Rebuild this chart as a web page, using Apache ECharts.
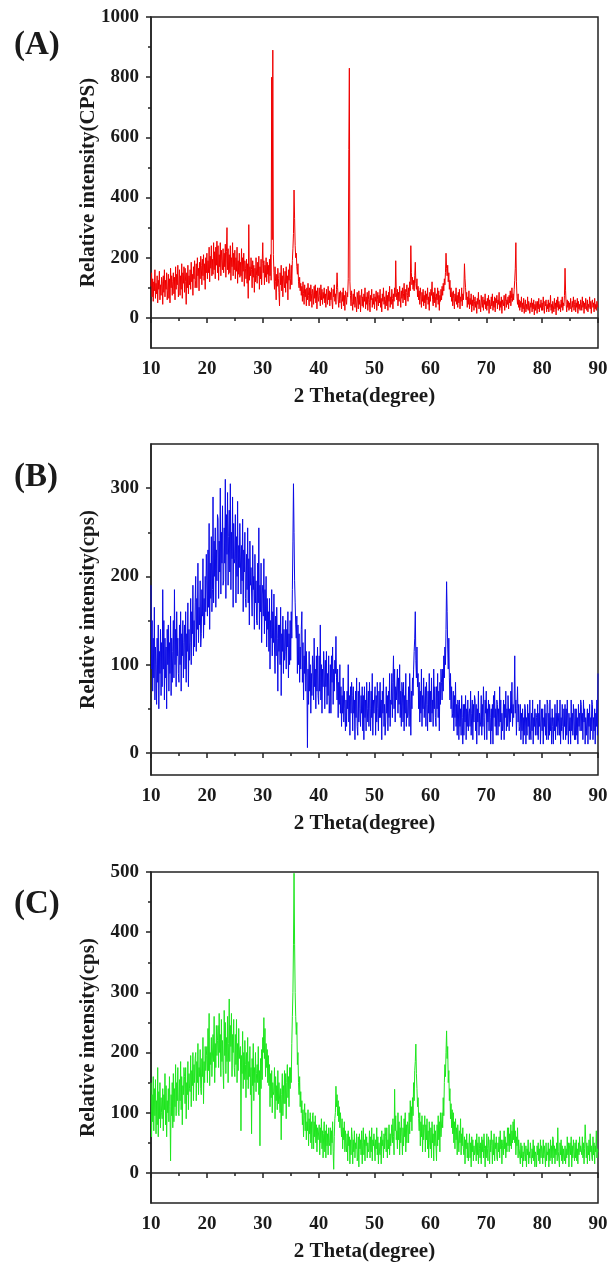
<!DOCTYPE html>
<html>
<head>
<meta charset="utf-8">
<title>XRD patterns</title>
<script src="https://cdn.jsdelivr.net/npm/echarts@6.0.0/dist/echarts.min.js"></script>
<style>
    html, body { margin: 0; padding: 0; background: #fff; }
    #container { width: 611px; height: 1276px; }
</style>
</head>
<body>
<div id="container"></div>
<script>
// scan: 10 to 90 degrees, one reading every 0.1 degree
var thetaStart = 10;
var thetaStep = 0.1;

var panelLabels = ['(A)', '(B)', '(C)'];
var yNames = ['Relative intensity(CPS)', 'Relative intensity(cps)', 'Relative intensity(cps)'];
var xName = '2 Theta(degree)';

var yTicksA = [0, 200, 400, 600, 800, 1000];
var yMinorA = [100, 300, 500, 700, 900];
var yTicksB = [0, 100, 200, 300];
var yMinorB = [50, 150, 250];
var yTicksC = [0, 100, 200, 300, 400, 500];
var yMinorC = [50, 150, 250, 350, 450];

// one row = one degree (x.0 ... x.9)
var intensityA = [
    105, 150, 70, 130, 55, 120, 90, 160, 65, 115,
    80, 140, 50, 125, 95, 155, 60, 110, 75, 135,
    120, 45, 140, 85, 160, 70, 125, 95, 150, 60,
    90, 145, 65, 130, 50, 165, 100, 140, 75, 120,
    150, 80, 135, 60, 170, 95, 145, 110, 175, 70,
    105, 160, 75, 140, 95, 180, 65, 150, 115, 170,
    85, 165, 120, 45, 150, 100, 175, 80, 140, 110,
    160, 95, 185, 120, 145, 75, 170, 130, 190, 100,
    125, 180, 100, 200, 140, 165, 90, 185, 130, 205,
    175, 110, 195, 140, 210, 125, 180, 95, 200, 150,
    215, 130, 190, 150, 235, 120, 205, 165, 240, 140,
    195, 145, 250, 160, 220, 130, 235, 175, 255, 150,
    240, 125, 210, 170, 250, 140, 225, 190, 160, 230,
    150, 215, 170, 245, 135, 220, 300, 160, 230, 145,
    210, 150, 240, 125, 200, 170, 250, 140, 215, 160,
    225, 130, 200, 155, 235, 115, 190, 145, 215, 135,
    185, 140, 230, 120, 200, 155, 215, 105, 190, 165,
    130, 195, 115, 180, 65, 310, 125, 170, 140, 200,
    160, 100, 190, 135, 175, 85, 165, 120, 200, 140,
    115, 185, 140, 205, 95, 170, 130, 195, 110, 180,
    250, 150, 190, 110, 175, 135, 200, 120, 185, 145,
    175, 115, 195, 140, 210, 125, 800, 260, 890, 210,
    150, 95, 170, 120, 60, 145, 105, 165, 130, 85,
    40, 150, 110, 175, 90, 140, 70, 165, 120, 100,
    155, 85, 170, 115, 140, 60, 160, 125, 180, 95,
    130, 175, 110, 190, 230, 280, 425, 330, 240, 200,
    215, 170, 145, 180, 120, 100, 135, 90, 115, 75,
    105, 55, 120, 80, 45, 110, 70, 95, 40, 100,
    60, 115, 75, 40, 100, 55, 110, 80, 35, 95,
    85, 45, 105, 65, 110, 50, 90, 30, 100, 70,
    55, 100, 75, 40, 110, 60, 95, 45, 85, 65,
    100, 50, 80, 35, 95, 70, 45, 105, 60, 90,
    40, 85, 60, 100, 50, 30, 95, 70, 110, 55,
    80, 45, 95, 150, 100, 60, 35, 85, 50, 90,
    65, 30, 85, 55, 100, 40, 75, 25, 90, 60,
    45, 85, 70, 130, 560, 830, 120, 75, 40, 90,
    55, 25, 80, 45, 95, 35, 70, 50, 20, 85,
    60, 30, 90, 45, 75, 20, 65, 95, 40, 70,
    35, 80, 55, 100, 30, 70, 45, 85, 25, 60,
    90, 50, 20, 75, 60, 95, 35, 65, 45, 80,
    30, 70, 55, 90, 25, 60, 85, 40, 75, 50,
    95, 35, 65, 20, 80, 55, 100, 45, 70, 30,
    60, 90, 40, 75, 25, 85, 55, 105, 35, 70,
    45, 95, 65, 30, 80, 55, 100, 70, 190, 85,
    60, 95, 40, 85, 55, 105, 70, 35, 90, 65,
    100, 50, 80, 115, 60, 95, 40, 85, 110, 75,
    55, 100, 70, 120, 90, 240, 150, 110, 135, 95,
    125, 90, 140, 185, 115, 95, 130, 70, 105, 60,
    90, 45, 100, 70, 35, 85, 55, 95, 40, 75,
    50, 90, 30, 80, 60, 100, 45, 70, 25, 85,
    55, 95, 75, 120, 60, 40, 85, 50, 100, 70,
    35, 80, 60, 100, 45, 90, 25, 75, 55, 95,
    60, 105, 75, 115, 90, 130, 110, 150, 215, 165,
    140, 175, 120, 150, 95, 125, 70, 100, 55, 85,
    40, 90, 65, 30, 80, 55, 100, 45, 75, 35,
    85, 50, 95, 30, 70, 55, 100, 40, 80, 60,
    95, 180, 130, 100, 60, 85, 35, 70, 45, 90,
    30, 65, 45, 80, 20, 60, 40, 75, 25, 55,
    70, 35, 55, 15, 65, 45, 85, 30, 60, 40,
    20, 75, 50, 35, 70, 25, 60, 45, 80, 30,
    55, 25, 65, 40, 75, 15, 60, 45, 30, 70,
    40, 80, 25, 55, 35, 70, 20, 65, 50, 75,
    30, 60, 45, 85, 25, 55, 35, 70, 15, 60,
    65, 40, 75, 25, 55, 80, 35, 60, 45, 70,
    30, 75, 50, 90, 40, 65, 100, 55, 80, 60,
    95, 125, 165, 250, 120, 70, 45, 80, 35, 60,
    25, 55, 35, 70, 20, 50, 30, 65, 15, 45,
    60, 20, 45, 30, 70, 25, 55, 40, 15, 50,
    35, 65, 20, 50, 30, 60, 10, 45, 25, 55,
    40, 15, 55, 30, 65, 20, 45, 35, 60, 25,
    50, 25, 70, 35, 15, 55, 40, 60, 20, 45,
    30, 60, 20, 50, 35, 75, 25, 45, 15, 55,
    40, 20, 65, 30, 50, 10, 60, 35, 70, 25,
    55, 30, 45, 20, 60, 35, 70, 25, 50, 40,
    75, 165, 90, 45, 20, 60, 35, 55, 25, 50,
    30, 65, 40, 20, 55, 35, 70, 25, 45, 60,
    20, 50, 35, 65, 15, 55, 30, 45, 25, 60,
    45, 25, 70, 35, 55, 15, 50, 30, 65, 40,
    25, 60, 20, 45, 35, 70, 30, 55, 15, 50,
    60, 35, 50, 20, 65, 30, 45, 25, 55, 40,
    35
];

var intensityB = [
    190, 95, 150, 70, 130, 85, 165, 60, 120, 100,
    55, 130, 80, 145, 50, 115, 90, 140, 65, 125,
    75, 185, 95, 150, 60, 130, 85, 120, 50, 140,
    100, 145, 70, 125, 90, 155, 65, 130, 80, 115,
    150, 85, 185, 100, 140, 75, 160, 110, 130, 90,
    80, 145, 100, 160, 70, 135, 110, 150, 85, 125,
    145, 95, 160, 80, 135, 115, 170, 75, 140, 105,
    125, 175, 100, 160, 135, 190, 110, 150, 120, 170,
    200, 115, 175, 140, 215, 125, 165, 145, 195, 120,
    135, 185, 155, 220, 130, 175, 145, 200, 160, 225,
    195, 155, 230, 165, 260, 140, 215, 175, 245, 160,
    185, 290, 170, 240, 200, 255, 165, 230, 195, 270,
    265, 175, 240, 205, 300, 180, 250, 215, 280, 190,
    195, 255, 215, 310, 175, 270, 225, 295, 190, 245,
    275, 205, 305, 185, 250, 220, 290, 165, 260, 215,
    220, 270, 170, 245, 200, 285, 180, 235, 210, 260,
    260, 180, 235, 195, 265, 160, 230, 205, 250, 175,
    165, 225, 185, 255, 170, 220, 145, 240, 190, 210,
    210, 155, 235, 185, 200, 140, 225, 170, 195, 150,
    145, 215, 170, 255, 140, 190, 160, 215, 125, 180,
    190, 155, 220, 135, 185, 150, 200, 120, 175, 140,
    160, 115, 175, 95, 150, 130, 185, 110, 160, 125,
    180, 120, 90, 155, 110, 165, 130, 70, 145, 115,
    145, 100, 165, 65, 135, 115, 155, 90, 140, 105,
    115, 150, 95, 140, 120, 160, 85, 135, 100, 150,
    105, 160, 130, 185, 240, 305, 250, 195, 170, 145,
    130, 155, 90, 145, 100, 135, 80, 120, 95, 140,
    160, 80, 125, 60, 110, 90, 140, 70, 115, 85,
    6, 95, 55, 115, 70, 100, 45, 90, 65, 110,
    100, 60, 130, 75, 95, 50, 110, 70, 120, 65,
    55, 110, 70, 145, 60, 100, 45, 95, 75, 115,
    95, 50, 105, 75, 115, 55, 90, 65, 110, 45,
    60, 100, 45, 110, 80, 120, 55, 95, 70, 105,
    90, 132, 85, 60, 95, 40, 80, 55, 100, 45,
    75, 30, 65, 45, 85, 35, 70, 50, 25, 60,
    30, 70, 50, 100, 35, 65, 20, 75, 45, 80,
    65, 25, 75, 45, 60, 15, 70, 40, 85, 30,
    20, 70, 35, 80, 50, 30, 65, 45, 75, 25,
    65, 15, 75, 40, 60, 25, 80, 50, 35, 70,
    30, 80, 50, 25, 70, 40, 90, 20, 60, 45,
    45, 75, 20, 65, 35, 80, 50, 25, 70, 40,
    80, 40, 60, 15, 70, 45, 85, 30, 55, 20,
    35, 75, 45, 65, 25, 70, 40, 90, 30, 60,
    55, 90, 40, 80, 110, 50, 95, 35, 75, 60,
    60, 95, 45, 85, 55, 100, 40, 70, 30, 80,
    70, 35, 80, 25, 65, 45, 90, 30, 60, 40,
    45, 75, 30, 90, 60, 20, 70, 50, 85, 65,
    95, 115, 130, 160, 105, 85, 120, 75, 90, 50,
    80, 35, 70, 45, 95, 30, 65, 50, 85, 40,
    40, 75, 30, 80, 55, 25, 70, 45, 90, 35,
    70, 35, 85, 45, 60, 30, 95, 50, 75, 40,
    30, 75, 50, 90, 40, 70, 25, 80, 55, 95,
    80, 60, 95, 70, 110, 85, 120, 100, 140, 194,
    160, 120, 95, 130, 85, 60, 90, 50, 75, 40,
    45, 70, 25, 65, 40, 80, 30, 55, 20, 60,
    55, 15, 60, 30, 50, 20, 65, 40, 10, 55,
    20, 55, 35, 65, 15, 50, 30, 60, 25, 45,
    50, 30, 70, 20, 45, 60, 15, 55, 35, 65,
    60, 25, 55, 10, 50, 35, 70, 20, 45, 30,
    35, 65, 20, 55, 30, 75, 40, 15, 60, 45,
    70, 15, 50, 35, 60, 25, 55, 40, 10, 50,
    25, 55, 10, 65, 40, 70, 30, 50, 20, 60,
    55, 20, 50, 30, 75, 35, 60, 15, 45, 25,
    35, 60, 15, 55, 40, 70, 25, 50, 30, 65,
    65, 25, 50, 35, 70, 45, 80, 30, 55, 40,
    60, 110, 45, 60, 20, 50, 75, 35, 55, 25,
    30, 55, 15, 45, 25, 50, 10, 40, 20, 55,
    50, 10, 40, 20, 55, 30, 45, 15, 60, 25,
    15, 45, 25, 60, 10, 40, 30, 50, 20, 45,
    40, 20, 55, 15, 45, 30, 60, 10, 35, 50,
    25, 50, 10, 40, 30, 55, 20, 45, 15, 60,
    55, 15, 45, 20, 60, 25, 40, 10, 50, 30,
    10, 40, 25, 55, 15, 45, 30, 60, 20, 35,
    45, 20, 60, 10, 40, 25, 55, 30, 15, 50,
    30, 55, 15, 50, 20, 60, 35, 10, 45, 25,
    40, 10, 60, 25, 45, 20, 55, 35, 15, 50,
    15, 50, 20, 40, 10, 55, 30, 45, 25, 60,
    55, 25, 45, 15, 60, 35, 50, 10, 40, 20,
    20, 50, 10, 45, 30, 55, 15, 40, 25, 60,
    55, 15, 40, 25, 50, 10, 45, 30, 60, 20,
    90
];

var intensityC = [
    150, 60, 130, 85, 160, 70, 140, 95, 155, 65,
    120, 80, 175, 60, 135, 90, 150, 75, 125, 100,
    90, 140, 70, 130, 105, 165, 80, 145, 60, 120,
    100, 140, 85, 160, 110, 20, 130, 95, 150, 75,
    165, 85, 140, 110, 180, 95, 150, 120, 175, 100,
    95, 155, 120, 185, 105, 160, 80, 145, 130, 175,
    160, 115, 175, 90, 150, 130, 185, 105, 165, 140,
    135, 195, 110, 170, 145, 200, 120, 180, 150, 190,
    200, 120, 185, 150, 215, 130, 175, 160, 205, 140,
    130, 190, 160, 225, 115, 185, 150, 210, 170, 195,
    210, 150, 240, 170, 265, 145, 200, 180, 225, 160,
    160, 230, 185, 260, 150, 215, 175, 245, 195, 220,
    245, 175, 265, 200, 230, 160, 255, 185, 220, 170,
    140, 270, 195, 250, 165, 225, 185, 260, 150, 215,
    289, 185, 245, 210, 265, 160, 230, 200, 255, 175,
    160, 230, 180, 255, 150, 215, 170, 240, 190, 205,
    210, 70, 195, 165, 235, 140, 200, 155, 220, 180,
    125, 200, 155, 225, 140, 185, 160, 210, 130, 175,
    65, 190, 145, 215, 120, 175, 150, 200, 135, 165,
    180, 150, 210, 130, 170, 45, 190, 140, 205, 155,
    225, 200, 258, 190, 240, 160, 215, 175, 205, 150,
    195, 145, 180, 110, 165, 125, 170, 100, 150, 130,
    135, 175, 90, 160, 120, 145, 105, 170, 115, 150,
    150, 100, 140, 55, 130, 165, 95, 145, 115, 170,
    115, 165, 90, 150, 180, 125, 160, 110, 175, 140,
    175, 150, 215, 260, 300, 380, 498, 380, 300, 260,
    230, 250, 180, 200, 150, 130, 160, 110, 135, 100,
    120, 80, 105, 60, 95, 115, 70, 100, 55, 85,
    70, 105, 45, 90, 65, 100, 50, 85, 40, 95,
    100, 40, 85, 60, 95, 50, 80, 35, 75, 55,
    55, 80, 30, 75, 50, 90, 40, 70, 25, 65,
    85, 35, 70, 25, 80, 45, 65, 30, 75, 50,
    45, 75, 30, 70, 50, 85, 35, 6, 60, 90,
    100, 144, 110, 130, 95, 120, 85, 110, 75, 100,
    100, 60, 90, 40, 75, 55, 85, 35, 70, 45,
    35, 65, 20, 70, 45, 60, 15, 55, 30, 75,
    60, 15, 55, 35, 70, 25, 50, 40, 65, 20,
    25, 60, 10, 65, 40, 55, 30, 70, 15, 50,
    75, 30, 55, 20, 65, 45, 60, 25, 50, 35,
    40, 70, 25, 60, 35, 75, 20, 55, 45, 65,
    65, 20, 55, 40, 75, 30, 60, 15, 50, 35,
    30, 60, 15, 70, 45, 55, 25, 65, 40, 75,
    60, 35, 75, 25, 55, 40, 80, 30, 65, 45,
    45, 80, 50, 90, 60, 30, 139, 70, 95, 55,
    70, 40, 100, 55, 85, 30, 75, 50, 95, 60,
    30, 75, 45, 90, 60, 100, 35, 80, 50, 85,
    80, 50, 100, 65, 120, 85, 110, 70, 125, 95,
    150, 120, 170, 185, 214, 165, 140, 110, 125, 90,
    70, 100, 45, 85, 60, 95, 35, 80, 55, 75,
    95, 35, 80, 55, 90, 40, 70, 25, 85, 50,
    40, 75, 25, 85, 50, 65, 20, 80, 45, 70,
    70, 20, 80, 45, 95, 55, 85, 35, 100, 60,
    60, 100, 75, 125, 95, 150, 180, 160, 200, 236,
    190, 210, 150, 170, 120, 140, 90, 115, 75, 105,
    65, 100, 50, 85, 40, 90, 55, 75, 30, 80,
    80, 35, 70, 50, 90, 30, 65, 45, 75, 40,
    30, 60, 15, 55, 40, 65, 25, 50, 20, 45,
    65, 25, 50, 10, 60, 35, 55, 20, 45, 30,
    35, 55, 20, 65, 30, 50, 15, 60, 40, 25,
    50, 15, 60, 35, 55, 25, 65, 40, 10, 45,
    25, 65, 40, 20, 60, 45, 15, 55, 35, 70,
    45, 15, 55, 30, 65, 20, 50, 40, 60, 25,
    20, 50, 35, 60, 25, 70, 40, 55, 15, 45,
    55, 30, 70, 40, 60, 25, 50, 35, 75, 45,
    75, 35, 65, 45, 80, 40, 70, 50, 85, 55,
    89, 50, 70, 30, 60, 45, 75, 25, 55, 40,
    40, 15, 50, 25, 45, 10, 35, 20, 50, 30,
    20, 45, 10, 40, 30, 55, 15, 35, 25, 50,
    50, 15, 40, 25, 55, 20, 45, 10, 35, 30,
    10, 45, 30, 50, 20, 40, 15, 55, 25, 45,
    40, 15, 55, 25, 45, 30, 10, 50, 20, 35,
    30, 50, 10, 40, 20, 55, 25, 45, 15, 60,
    55, 25, 45, 15, 40, 30, 50, 20, 75, 35,
    35, 10, 50, 30, 55, 20, 45, 15, 40, 25,
    20, 45, 15, 40, 25, 60, 30, 50, 10, 45,
    50, 30, 60, 10, 45, 25, 55, 35, 20, 50,
    25, 55, 20, 40, 15, 50, 30, 60, 35, 45,
    45, 30, 60, 25, 50, 15, 40, 80, 55, 25,
    50, 15, 45, 30, 55, 20, 65, 35, 45, 25,
    20, 60, 30, 50, 15, 45, 35, 70, 25, 40,
    35
];

function toPoints(values) {
    return values.map(function (v, i) {
        var theta = Math.round((thetaStart + i * thetaStep) * 10) / 10;
        return [theta, v];
    });
}

var panels = [
    { values: intensityA, color: '#f00000', min: -100, max: 1000, ticks: yTicksA, minor: yMinorA },
    { values: intensityB, color: '#0a0ae6', min: -25, max: 350, ticks: yTicksB, minor: yMinorB },
    { values: intensityC, color: '#1ee61e', min: -50, max: 500, ticks: yTicksC, minor: yMinorC }
];

var gridTops = [17, 444, 872];
var labelY = [46, 478, 905];
var fontFamily = '"Liberation Serif", "Times New Roman", serif';
var ink = '#1a1a1a';

var grids = [], xAxes = [], yAxes = [], series = [], graphics = [];

panels.forEach(function (p, k) {
    grids.push({
        left: 151, width: 447, top: gridTops[k], height: 331,
        show: true, borderColor: '#222', borderWidth: 1.5, backgroundColor: 'transparent'
    });
    xAxes.push({
        type: 'value', gridIndex: k, min: 10, max: 90, interval: 10,
        name: xName, nameLocation: 'middle', nameGap: 38, nameMoveOverlap: false,
        nameTextStyle: { fontFamily: fontFamily, fontWeight: 'bold', fontSize: 21, color: ink, padding: [0, 20, 0, 0] },
        axisLine: { lineStyle: { color: '#222', width: 1.5 } },
        axisTick: { length: 5, lineStyle: { color: '#222', width: 1.5 } },
        minorTick: { show: true, splitNumber: 2, length: 3, lineStyle: { color: '#222', width: 1.5 } },
        axisLabel: { margin: 12, fontFamily: fontFamily, fontWeight: 'bold', fontSize: 19, color: ink },
        splitLine: { show: false }
    });
    yAxes.push({
        type: 'value', gridIndex: k, position: 'left', min: p.min, max: p.max,
        name: yNames[k], nameLocation: 'middle', nameGap: 52, nameMoveOverlap: false,
        nameTextStyle: { fontFamily: fontFamily, fontWeight: 'bold', fontSize: 21, color: ink },
        axisLine: { show: true, lineStyle: { color: '#222', width: 1.5 } },
        axisTick: { show: true, length: 5, customValues: p.ticks, lineStyle: { color: '#222', width: 1.5 } },
        axisLabel: {
            margin: 12, customValues: p.ticks,
            formatter: function (v) { return String(v); },
            fontFamily: fontFamily, fontWeight: 'bold', fontSize: 19, color: ink
        },
        splitLine: { show: false }
    });
    // second left axis only carries the short minor ticks
    yAxes.push({
        type: 'value', gridIndex: k, position: 'left', min: p.min, max: p.max,
        axisLine: { show: false },
        axisTick: { show: true, length: 3, customValues: p.minor, lineStyle: { color: '#222', width: 1.5 } },
        axisLabel: { show: false },
        splitLine: { show: false }
    });
    series.push({
        type: 'line', xAxisIndex: k, yAxisIndex: k * 2,
        data: toPoints(p.values),
        showSymbol: false, symbol: 'none',
        lineStyle: { color: p.color, width: 1 },
        silent: true
    });
    graphics.push({
        type: 'text', left: 14, top: labelY[k] - 17,
        style: { text: panelLabels[k], font: 'bold 33px ' + fontFamily, fill: ink }
    });
});

var myChart = echarts.init(document.getElementById('container'), null, { renderer: 'canvas' });
myChart.setOption({
    animation: false,
    backgroundColor: '#fff',
    grid: grids,
    xAxis: xAxes,
    yAxis: yAxes,
    series: series,
    graphic: graphics
});
</script>
</body>
</html>
